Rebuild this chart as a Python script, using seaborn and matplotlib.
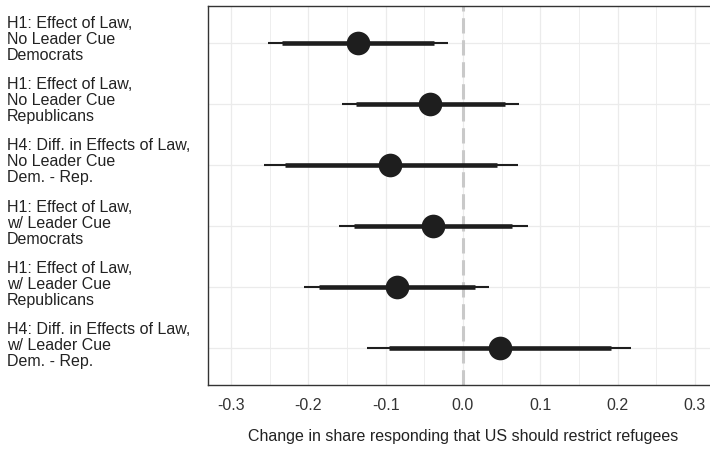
import numpy as np
import pandas as pd
import matplotlib
matplotlib.use("Agg")
import matplotlib.pyplot as plt
import matplotlib.transforms as mtransforms
import seaborn as sns

# Estimates with 90% (thick) and 95% (thin) intervals, top to bottom
labels = [
    "H1: Effect of Law,\nNo Leader Cue\nDemocrats",
    "H1: Effect of Law,\nNo Leader Cue\nRepublicans",
    "H4: Diff. in Effects of Law,\nNo Leader Cue\nDem. - Rep.",
    "H1: Effect of Law,\nw/ Leader Cue\nDemocrats",
    "H1: Effect of Law,\nw/ Leader Cue\nRepublicans",
    "H4: Diff. in Effects of Law,\nw/ Leader Cue\nDem. - Rep.",
]
estimate = [-0.136, -0.043, -0.094, -0.039, -0.086, 0.048]
ci90_lo = [-0.234, -0.139, -0.231, -0.141, -0.187, -0.096]
ci90_hi = [-0.038, 0.054, 0.044, 0.064, 0.015, 0.191]
ci95_lo = [-0.253, -0.157, -0.257, -0.160, -0.206, -0.124]
ci95_hi = [-0.020, 0.072, 0.071, 0.084, 0.034, 0.218]
xticks = [-0.3, -0.2, -0.1, 0.0, 0.1, 0.2, 0.3]

df = pd.DataFrame({
    "label": labels,
    "pos": np.arange(len(labels)),
    "estimate": estimate,
    "lo90": ci90_lo, "hi90": ci90_hi,
    "lo95": ci95_lo, "hi95": ci95_hi,
})

sns.set_style("white")
plt.rcParams["font.family"] = ["Liberation Sans", "DejaVu Sans"]
FS = 11.5

fig = plt.figure(figsize=(7.1, 4.52), dpi=100)
ax = fig.add_axes([208 / 710, 66 / 452, 510 / 710, 379 / 452])

ink = "#1e1e1e"
grid_c = "#ebebeb"

# grid: majors every 0.1, minors in between, one line per row
for v in np.arange(-0.35, 0.351, 0.05):
    major = abs(round(v * 20)) % 2 == 0
    ax.axvline(v, color=grid_c, lw=0.9 if major else 0.6, zorder=0)
for p in df["pos"]:
    ax.axhline(p, color=grid_c, lw=0.9, zorder=0)

# reference line at zero
ax.axvline(0, color="#c9c9c9", lw=2.2, dashes=(5, 2.2), zorder=1)

ax.hlines(df["pos"], df["lo95"], df["hi95"], color=ink, lw=1.5, zorder=2)
ax.hlines(df["pos"], df["lo90"], df["hi90"], color=ink, lw=3.3, zorder=3)
sns.scatterplot(data=df, x="estimate", y="pos", s=290, color=ink,
                edgecolor=ink, linewidth=0, ax=ax, zorder=4, legend=False)

ax.set_xlim(-0.33, 0.33)
ax.set_ylim(len(labels) - 0.4, -0.6)
ax.set_xticks(xticks)
ax.set_xticklabels([f"{t:.1f}" for t in xticks], fontsize=FS, color="#333333")
ax.set_yticks(df["pos"])
ax.set_yticklabels([])
ax.tick_params(axis="y", length=3, width=0.8, color="#555555")
ax.tick_params(axis="x", length=3, width=0.8, color="#555555", pad=5.5)

# left-aligned multi-line row labels
trans = mtransforms.blended_transform_factory(fig.transFigure, ax.transData)
trans = trans + mtransforms.ScaledTranslation(0, 4 / 100, fig.dpi_scale_trans)
for p, lab in zip(df["pos"], df["label"]):
    ax.text(7 / 710, p, lab, transform=trans, ha="left", va="center",
            fontsize=FS, color="#222222", linespacing=1.08, clip_on=False)

ax.set_xlabel("Change in share responding that US should restrict refugees",
              fontsize=FS, color="#222222", labelpad=12)
ax.set_ylabel("")
for s in ax.spines.values():
    s.set_visible(True)
    s.set_color("#333333")
    s.set_linewidth(1.0)

fig.savefig("out.png", dpi=100)
